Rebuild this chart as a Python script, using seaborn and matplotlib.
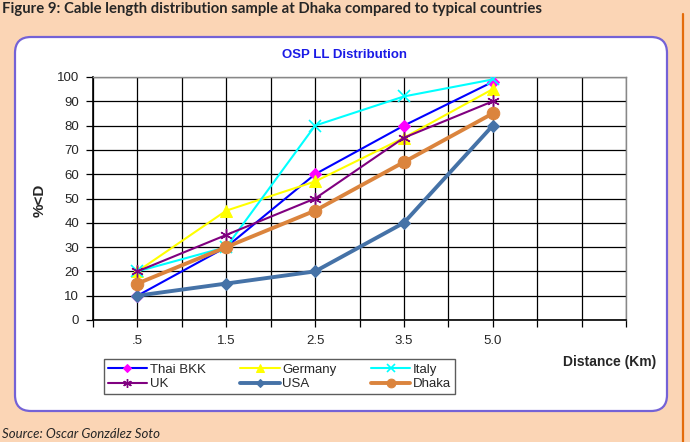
import numpy as np
import pandas as pd
import matplotlib
matplotlib.use("Agg")
import matplotlib.pyplot as plt
import seaborn as sns
from matplotlib.patches import FancyBboxPatch
from matplotlib.transforms import IdentityTransform
from matplotlib.lines import Line2D

# data
distance = ['.5', '1.5', '2.5', '3.5', '5.0', '']
thai_bkk = [10, 30, 60, 80, 98]
germany = [20, 45, 57, 75, 95]
italy = [20, 30, 80, 92, 99]
uk = [20, 35, 50, 75, 90]
usa = [10, 15, 20, 40, 80]
dhaka = [15, 30, 45, 65, 85]

sns.set_style("white")
plt.rcParams['font.family'] = ['Liberation Sans', 'DejaVu Sans']

fig = plt.figure(figsize=(6.9, 4.42), dpi=100)
fig.patch.set_facecolor('#FBD5B5')

# white rounded panel (pixel coords)
panel = FancyBboxPatch((15, 442 - 411), 652, 374, boxstyle="round,pad=0,rounding_size=16",
                       transform=IdentityTransform(), facecolor='white',
                       edgecolor='#7462D6', linewidth=1.6, zorder=0)
fig.add_artist(panel)
fig.add_artist(Line2D([683, 683], [0, 428], transform=IdentityTransform(),
                      color='#E46C0A', linewidth=1.6))

ax = fig.add_axes([93 / 690, (442 - 320) / 442, (626 - 93) / 690, (320 - 77) / 442])
ax.set_facecolor('white')

series = [
    ('Thai BKK', thai_bkk, dict(color='#0000FF', marker='D', markerfacecolor='#FF00FF',
                                markeredgecolor='#FF00FF', markersize=6, linewidth=1.5)),
    ('Germany', germany, dict(color='#FFFF00', marker='^', markerfacecolor='#FFFF00',
                              markeredgecolor='#FFFF00', markersize=8, linewidth=1.5)),
    ('Italy', italy, dict(color='#00FFFF', marker='x', markeredgecolor='#00FFFF',
                          markersize=8, markeredgewidth=1.2, linewidth=1.5)),
    ('UK', uk, dict(color='#800080', marker=(6, 2, 0), markeredgecolor='#800080',
                    markersize=9, markeredgewidth=1.0, linewidth=1.5)),
    ('USA', usa, dict(color='#4572A7', marker='D', markerfacecolor='#4572A7',
                      markeredgecolor='#4572A7', markersize=6, linewidth=2.8)),
    ('Dhaka', dhaka, dict(color='#DB843D', marker='o', markerfacecolor='#DB843D',
                          markeredgecolor='#DB843D', markersize=9, linewidth=2.8)),
]

x = np.arange(len(thai_bkk))
for i, (name, vals, style) in enumerate(series):
    sns.lineplot(x=x, y=vals, ax=ax, label=name, zorder=3 + i, **style)

ax.set_xlim(-0.5, 5.5)
ax.set_ylim(0, 100)
ax.set_yticks(np.arange(0, 101, 10))
ax.set_xticks(np.arange(6))
ax.set_xticklabels(distance)
ax.set_xticks(np.arange(-0.5, 5.6, 1), minor=True)
ax.grid(True, which='both', color='black', linewidth=0.9)
ax.tick_params(axis='both', which='both', direction='out', length=5, width=0.9,
               color='black', labelsize=9.5, pad=5, left=True, bottom=True)
ax.tick_params(axis='x', pad=6)
for s in ['left', 'bottom']:
    ax.spines[s].set_color('black')
    ax.spines[s].set_linewidth(1.2)
for s in ['top', 'right']:
    ax.spines[s].set_color('#888888')
    ax.spines[s].set_linewidth(1.0)
ax.set_xlabel('')
ax.set_ylabel('')

handles, labels = ax.get_legend_handles_labels()
ax.get_legend().remove()
order = [0, 3, 1, 4, 2, 5]
leg = fig.legend([handles[k] for k in order], [labels[k] for k in order], ncol=3,
                 loc='lower left', bbox_to_anchor=(97 / 690, (442 - 401) / 442),
                 fontsize=9.5, frameon=True, fancybox=False, edgecolor='#333333',
                 borderpad=0.3, labelspacing=0.2, columnspacing=2.6, handlelength=3.0,
                 handletextpad=0.2, markerscale=0.7)
leg.get_frame().set_linewidth(1.0)

fig.text(345 / 690, 1 - 55 / 442, 'OSP LL Distribution', color='#1A1AE6', fontsize=9.5,
         fontweight='bold', ha='center', va='center')
fig.text(40 / 690, 1 - 200 / 442, '%<D', rotation=90, fontsize=11, fontweight='bold',
         ha='center', va='center')
fig.text(656 / 690, 1 - 362 / 442, 'Distance (Km)', fontsize=10, fontweight='bold',
         ha='right', va='center')
fig.text(2 / 690, 1 - 9 / 442,
         'Figure 9: Cable length distribution sample at Dhaka compared to typical countries',
         fontsize=10.7, fontweight='bold', family=['Lato', 'DejaVu Sans'], ha='left', va='center')
fig.text(2 / 690, 1 - 434 / 442, 'Source: Oscar González Soto', fontsize=9.5,
         style='italic', family=['Lato', 'DejaVu Sans'], ha='left', va='center')

fig.savefig('out.png', dpi=100, facecolor=fig.get_facecolor())
